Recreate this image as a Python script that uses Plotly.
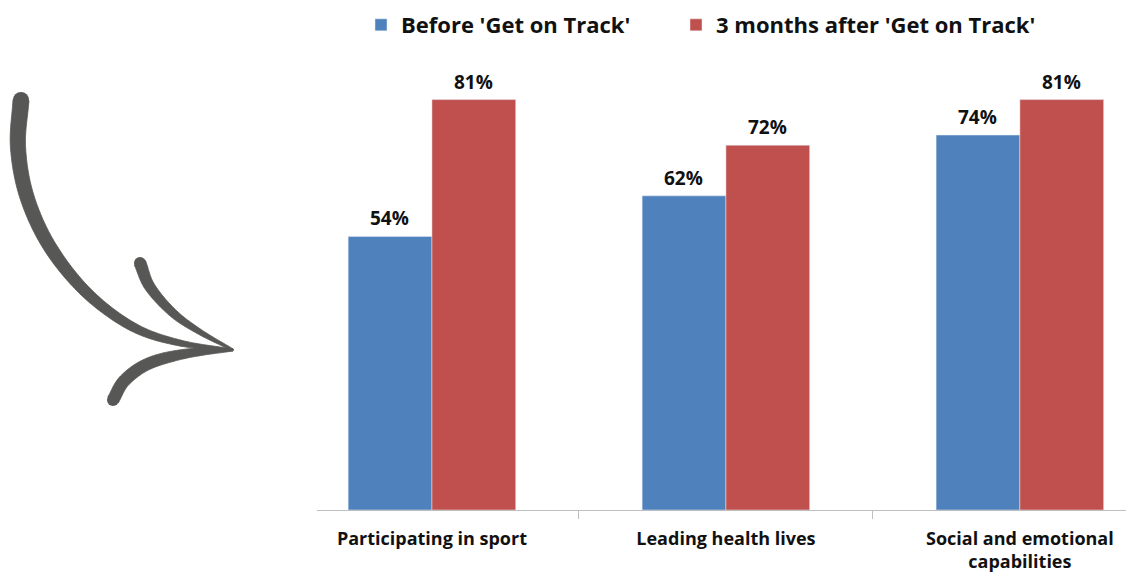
import numpy as np
import plotly.graph_objects as go

# Survey results
categories = ["Participating in sport", "Leading health lives", "Social and emotional<br>capabilities"]
before_vals = [54, 62, 74]
after_vals = [81, 72, 81]
series_names = ["Before 'Get on Track'", "3 months after 'Get on Track'"]

BLUE = "#4F81BD"
RED = "#C0504D"
ARROW = "#575756"
FONT = "Open Sans"

W, H = 1126, 579
L, R, T, B = 317, 0, 54, 69
PW, PH = W - L - R, H - T - B


def to_paper(px, py):
    return (np.asarray(px) - L) / PW, (H - B - np.asarray(py)) / PH


def catmull_rom(pts, per_seg=20):
    pts = np.asarray(pts, float)
    p = np.vstack([2 * pts[0] - pts[1], pts, 2 * pts[-1] - pts[-2]])
    out = []
    for i in range(1, len(p) - 2):
        p0, p1, p2, p3 = p[i - 1], p[i], p[i + 1], p[i + 2]
        for t in np.linspace(0, 1, per_seg, endpoint=False):
            t2, t3 = t * t, t * t * t
            out.append(0.5 * ((2 * p1) + (-p0 + p2) * t + (2 * p0 - 5 * p1 + 4 * p2 - p3) * t2
                              + (-p0 + 3 * p1 - 3 * p2 + p3) * t3))
    out.append(pts[-1])
    return np.array(out)


def stroke_path(pts, widths):
    """Tapered brush stroke along a smooth curve, as an SVG path in paper coords."""
    c = catmull_rom(pts)
    x, y = c[:, 0], c[:, 1]
    dx, dy = np.gradient(x), np.gradient(y)
    ln = np.hypot(dx, dy)
    nx, ny = -dy / ln, dx / ln
    s = np.r_[0, np.cumsum(np.hypot(np.diff(x), np.diff(y)))]
    s /= s[-1]
    w = np.interp(s, np.linspace(0, 1, len(widths)), widths) / 2
    left = np.c_[x + nx * w, y + ny * w]
    right = np.c_[x - nx * w, y - ny * w][::-1]
    poly = np.vstack([left, right])
    qx, qy = to_paper(poly[:, 0], poly[:, 1])
    return "M " + " L ".join(f"{a:.5f},{b:.5f}" for a, b in zip(qx, qy)) + " Z"


fig = go.Figure()
for name, vals, color, leg in [(series_names[0], before_vals, BLUE, "legend"),
                               (series_names[1], after_vals, RED, "legend2")]:
    fig.add_trace(go.Bar(x=categories, y=vals, name=name, marker_color=color, legend=leg))

# Value labels above each bar
annotations = []
for vals, shift in [(before_vals, -42), (after_vals, 42)]:
    for cat, v in zip(categories, vals):
        annotations.append(dict(x=cat, y=v, xref="x", yref="y", text=f"{v}%", showarrow=False,
                                xshift=shift, yshift=3, yanchor="bottom",
                                font=dict(family=FONT, size=19, color="#111111", weight="bold")))

# Hand-drawn arrow on the left
strokes = [
    ([(21, 100), (18, 147), (27, 197), (50, 247), (87, 293), (133, 327), (180, 343), (233, 350)],
     [16, 15, 14, 13, 11, 9, 6, 2]),
    ([(140, 263), (150, 287), (173, 313), (200, 332), (233, 350)], [12, 10, 8, 5, 2]),
    ([(233, 350), (190, 353), (150, 363), (125, 380), (113, 400)], [2, 8, 11, 12, 12]),
]
shapes = []
for pts, widths in strokes:
    shapes.append(dict(type="path", xref="paper", yref="paper", path=stroke_path(pts, widths),
                       fillcolor=ARROW, line=dict(width=0.8, color=ARROW), layer="above"))
# rounded ends of the strokes
for cx, cy, r in [(21, 100, 8), (140, 263, 6), (113, 400, 6)]:
    x0, y0 = to_paper(cx - r, cy + r)
    x1, y1 = to_paper(cx + r, cy - r)
    shapes.append(dict(type="circle", xref="paper", yref="paper", x0=x0, y0=y0, x1=x1, y1=y1,
                       fillcolor=ARROW, line=dict(width=0), layer="above"))

legend_style = dict(orientation="h", xanchor="left", y=1 + (T - 25) / PH, yanchor="middle",
                    font=dict(family=FONT, size=22, color="#111111", weight="bold"),
                    itemwidth=30, bgcolor="rgba(0,0,0,0)")

fig.update_layout(
    width=W, height=H,
    margin=dict(l=L, r=R, t=T, b=B),
    paper_bgcolor="white", plot_bgcolor="white",
    barmode="group", bargap=0.43, bargroupgap=0,
    font=dict(family=FONT, color="#111111"),
    showlegend=True,
    legend=dict(x=(361 - L) / PW, **legend_style),
    legend2=dict(x=(676 - L) / PW, **legend_style),
    xaxis=dict(range=[-0.391, 2.361], showgrid=False, showline=True, linecolor="#BFBFBF", linewidth=1,
               ticks="outside", tickson="boundaries", ticklen=8, tickcolor="#BFBFBF",
               ticklabelstandoff=12,
               tickfont=dict(family=FONT, size=18, color="#111111", weight="bold")),
    yaxis=dict(range=[0, 90], visible=False, showgrid=False),
    shapes=shapes,
    annotations=annotations,
)

fig.write_html("out.html")
